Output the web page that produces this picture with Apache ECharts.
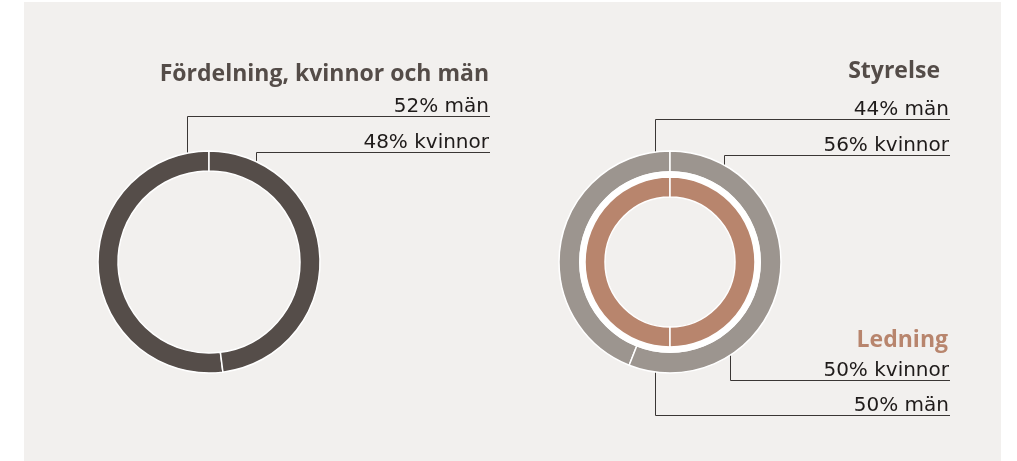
<!DOCTYPE html>
<html>
<head>
<meta charset="utf-8">
<script src="https://cdn.jsdelivr.net/npm/echarts@6/dist/echarts.min.js"></script>
<style>
  html, body { margin: 0; padding: 0; background: #fff; }
  #panel { position: absolute; left: 24px; top: 2px; width: 977px; height: 459px; background: #f2f0ee; }
  #main { position: absolute; left: 0; top: 0; width: 1017px; height: 461px; }
</style>
</head>
<body>
<div id="panel"></div>
<div id="main"></div>
<script>
// andelar i procent
var genderNames = ['män', 'kvinnor'];
var totalShare = [52, 48];     // Fördelning, kvinnor och män
var boardShare = [44, 56];     // Styrelse
var mgmtShare = [50, 50];      // Ledning
var titles = ['Fördelning, kvinnor och män', 'Styrelse', 'Ledning'];

(function () {
  var dark = '#554d49';
  var grey = '#9c958f';
  var copper = '#b8856d';
  var ink = '#1f1b1a';
  var lineColor = '#3a3634';
  var titleFont = '"Open Sans", Lato, sans-serif';
  var labelFont = '"DejaVu Sans", sans-serif';

  function toData(values) {
    return values.map(function (v, i) { return { value: v, name: genderNames[i] }; });
  }

  // ledare: lodrätt från ringen, sedan vågrätt ut till textkanten
  function leader(cx, cy, r, xEnd, spec) {
    return function (params) {
      var s = spec[params.dataIndex];
      var x = cx + s.dx;
      var h = Math.sqrt(r * r - s.dx * s.dx);
      var y0 = s.below ? cy + h : cy - h;
      return {
        x: xEnd - 1,
        y: s.lineY + 0.5,
        align: 'right',
        verticalAlign: 'bottom',
        labelLinePoints: [[x, y0], [x, s.lineY], [xEnd, s.lineY]]
      };
    };
  }

  function donut(name, values, center, radius, color, layout) {
    return {
      name: name,
      type: 'pie',
      center: center,
      radius: radius,
      startAngle: 90,
      clockwise: false,
      avoidLabelOverlap: false,
      silent: true,
      itemStyle: { color: color, borderColor: '#fff', borderWidth: 1.5 },
      label: {
        show: true,
        position: 'outside',
        color: ink,
        fontFamily: labelFont,
        fontSize: 20,
        lineHeight: 20,
        formatter: function (p) { return p.value + '% ' + p.name; }
      },
      labelLine: { show: true, smooth: false, length: 5, length2: 5, lineStyle: { color: lineColor, width: 1 } },
      labelLayout: layout,
      data: toData(values)
    };
  }

  var titleStyle = { color: '#544c48', fontFamily: titleFont, fontWeight: 'bold', fontSize: 23 };

  var myChart = echarts.init(document.getElementById('main'));
  var option = {
    animation: false,
    title: [
      { text: titles[0], right: 528, top: 63, padding: 0, textStyle: titleStyle },
      { text: titles[1], right: 77, top: 60, padding: 0, textStyle: titleStyle },
      { text: titles[2], right: 69, top: 329, padding: 0,
        textStyle: { color: copper, fontFamily: titleFont, fontWeight: 'bold', fontSize: 23 } }
    ],
    series: [
      donut('Fördelning', totalShare, [209, 262], [91, 111], dark,
        leader(209, 262, 111, 490, [
          { dx: -21.5, lineY: 116.5 },
          { dx: 47.5, lineY: 152.5 }
        ])),
      donut('Styrelse', boardShare, [670, 262], [90, 111], grey,
        leader(670, 262, 111, 950, [
          { dx: -14.5, lineY: 119.5 },
          { dx: 54.5, lineY: 155.5 }
        ])),
      {
        type: 'pie',
        center: [670, 262],
        radius: [84, 91],
        silent: true,
        label: { show: false },
        labelLine: { show: false },
        itemStyle: { color: '#fff' },
        data: [1]
      },
      donut('Ledning', mgmtShare, [670, 262], [65, 85], copper,
        leader(670, 262, 85, 950, [
          { dx: -14.5, lineY: 415.5, below: true },
          { dx: 60.5, lineY: 380.5, below: true }
        ]))
    ]
  };
  myChart.setOption(option);
})();
</script>
</body>
</html>
